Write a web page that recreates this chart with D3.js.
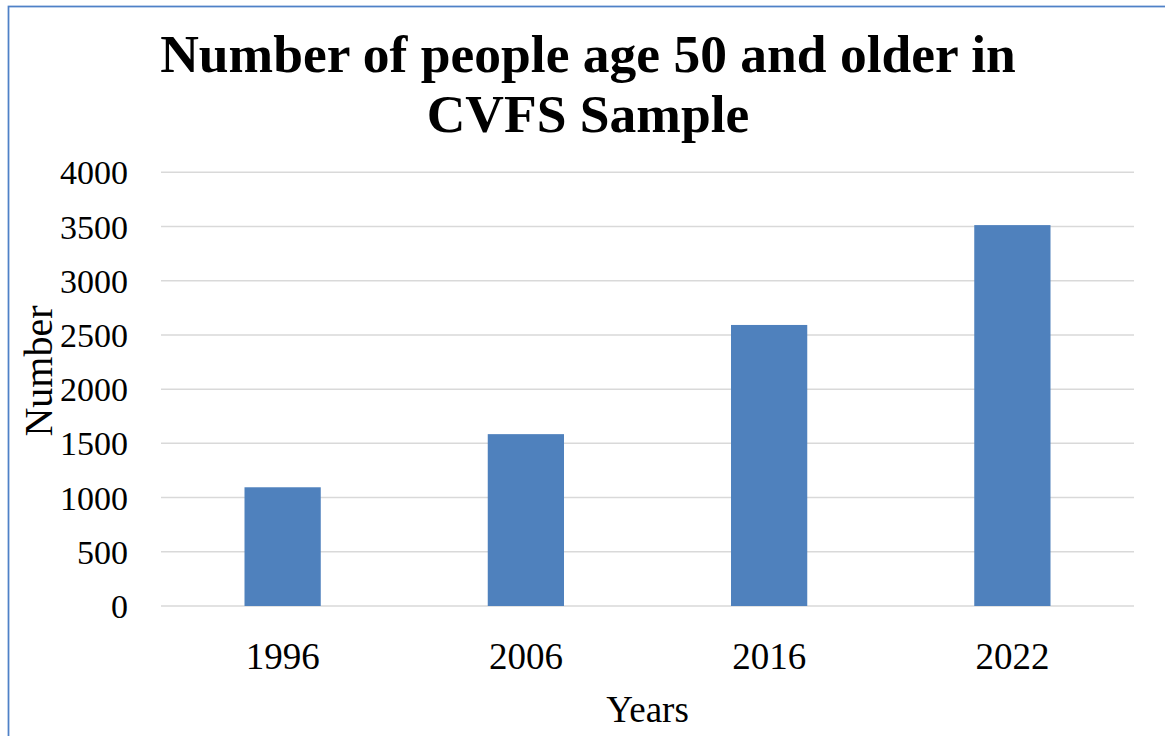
<!DOCTYPE html>
<html>
<head>
<meta charset="utf-8">
<script src="https://cdn.jsdelivr.net/npm/d3@7"></script>
<style>
html,body{margin:0;padding:0;background:#fff;}
svg{display:block;}
text{font-family:"Liberation Serif","Times New Roman",serif;fill:#000;}
</style>
</head>
<body>
<script>
const categories = ["1996", "2006", "2016", "2022"];
const values = [1095, 1585, 2592, 3513];
const yTicks = [0, 500, 1000, 1500, 2000, 2500, 3000, 3500, 4000];
const titleLines = ["Number of people age 50 and older in", "CVFS Sample"];
const xTitle = "Years";
const yTitle = "Number";

const W = 1165, H = 736;
const svg = d3.select("body").append("svg").attr("width", W).attr("height", H);

// chart border
svg.append("rect").attr("x", 8.5).attr("y", 6.5).attr("width", 1200).attr("height", 800)
  .attr("fill", "none").attr("stroke", "#4f81c7").attr("stroke-width", 1.75);

const plot = {left: 161, right: 1134, top: 172.3, bottom: 606};

const x = d3.scaleBand().domain(categories).range([plot.left, plot.right])
  .paddingInner(1 - 1/3.19).paddingOuter((1 - 1/3.19)/2);
const y = d3.scaleLinear().domain([0, 4000]).range([plot.bottom, plot.top]);

// gridlines
svg.append("g").selectAll("line").data(yTicks).join("line")
  .attr("x1", plot.left).attr("x2", plot.right)
  .attr("y1", d => y(d)).attr("y2", d => y(d))
  .attr("stroke", "#d9d9d9").attr("stroke-width", 1.5);

// y axis labels
const yAxis = d3.axisLeft(y).tickValues(yTicks).tickSize(0).tickPadding(0).tickFormat(d3.format("d"));
const yg = svg.append("g").attr("transform", `translate(128,0)`).call(yAxis);
yg.select(".domain").remove();
yg.selectAll("text").attr("font-size", 34).attr("font-family", "Liberation Serif").attr("fill", "#000").attr("dy", "0.34em");

// bars
svg.append("g").selectAll("rect").data(values).join("rect")
  .attr("x", (d, i) => x(categories[i]))
  .attr("width", x.bandwidth())
  .attr("y", d => y(d))
  .attr("height", d => y(0) - y(d))
  .attr("fill", "#4f81bd");

// x axis labels
const xAxis = d3.axisBottom(x).tickSize(0).tickPadding(0);
const xg = svg.append("g").attr("transform", `translate(0,669)`).call(xAxis);
xg.select(".domain").remove();
xg.selectAll("text").attr("font-size", 37).attr("font-family", "Liberation Serif").attr("fill", "#000").attr("dy", 0);

// title
svg.append("g").selectAll("text").data(titleLines).join("text")
  .attr("x", 588).attr("y", (d, i) => 72 + i * 60)
  .attr("text-anchor", "middle").attr("font-weight", "bold").attr("font-size", 53.5)
  .text(d => d);

// axis titles
svg.append("text").attr("x", (plot.left + plot.right) / 2).attr("y", 722)
  .attr("text-anchor", "middle").attr("font-size", 37).text(xTitle);
svg.append("text").attr("transform", "translate(52,371) rotate(-90)")
  .attr("text-anchor", "middle").attr("font-size", 40).text(yTitle);
</script>
</body>
</html>
